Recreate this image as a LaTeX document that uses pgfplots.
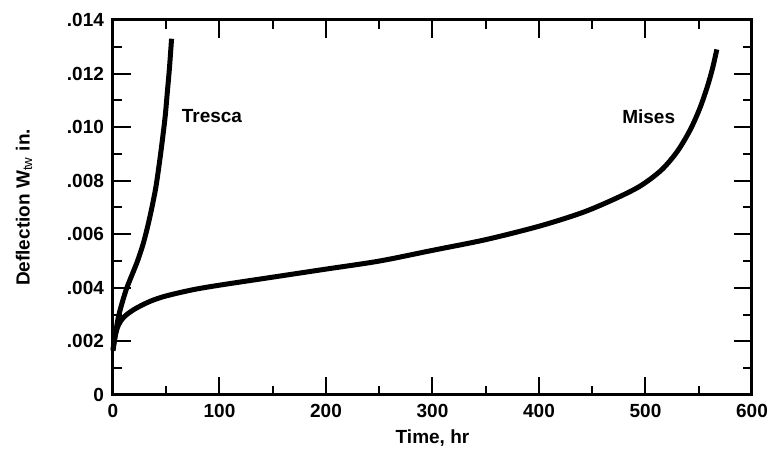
\documentclass[border=0pt]{standalone}
\usepackage{pgfplots}
\pgfplotsset{compat=1.18}
\usepackage{fontspec}
\setmainfont{Liberation Sans}
\begin{document}
\begin{tikzpicture}
\useasboundingbox (-56.5pt,-30pt) rectangle (327.5pt,197.5pt);
\begin{axis}[
  scale only axis,
  width=319.5pt, height=187.5pt,
  xmin=0, xmax=600, ymin=0, ymax=0.014,
  axis line style={line width=1.5pt},
  xtick={0,100,200,300,400,500,600},
  xticklabels={0,100,200,300,400,500,600},
  ytick={0,0.002,0.004,0.006,0.008,0.010,0.012,0.014},
  yticklabels={0,.002,.004,.006,.008,.010,.012,.014},
  minor x tick num=1, minor y tick num=1,
  tick align=inside,
  major tick length=9pt, minor tick length=4.5pt,
  every tick/.style={black, line width=1pt},
  scaled y ticks=false,
  tick label style={font=\bfseries\fontsize{9.5}{11}\selectfont},
  xticklabel style={yshift=-1pt},
  yticklabel style={xshift=-1pt},
  label style={font=\bfseries\fontsize{9.5}{11}\selectfont},
  xlabel={Time, hr},
  xlabel style={yshift=1pt},
  ylabel={Deflection W$_{\mathrm{tw}}$ in.},
  ylabel style={yshift=10.5pt},
  clip=false,
]
\addplot[black, line width=2.5pt, smooth, tension=0.5] coordinates {
(0,0.00165) (2,0.0022) (5,0.0029) (9,0.0035) (13,0.0040) (18,0.0045)
(23,0.0050) (28,0.0056) (32,0.0062) (36,0.0069) (40,0.0077) (43,0.0085)
(46,0.0094) (49,0.0104) (51,0.0113) (53,0.0122) (55,0.0133)
};
\addplot[black, line width=2.5pt, smooth, tension=0.5] coordinates {
(0,0.0017) (2,0.0022) (5,0.0026) (10,0.0029) (20,0.0032) (35,0.0035)
(50,0.0037) (75,0.00393) (100,0.0041) (150,0.0044) (200,0.0047) (250,0.0050)
(300,0.0054) (350,0.0058) (400,0.0063) (440,0.0068) (470,0.0073) (495,0.0078)
(515,0.0084) (530,0.0091) (542,0.0099) (551,0.0107) (558,0.0115) (563,0.0122) (567,0.0129)
};
\node[anchor=west, font=\bfseries\fontsize{9.5}{11}\selectfont] at (axis cs:58,0.0104) {Tresca};
\node[font=\bfseries\fontsize{9.5}{11}\selectfont] at (axis cs:503,0.0104) {Mises};
\end{axis}
\end{tikzpicture}
\end{document}
